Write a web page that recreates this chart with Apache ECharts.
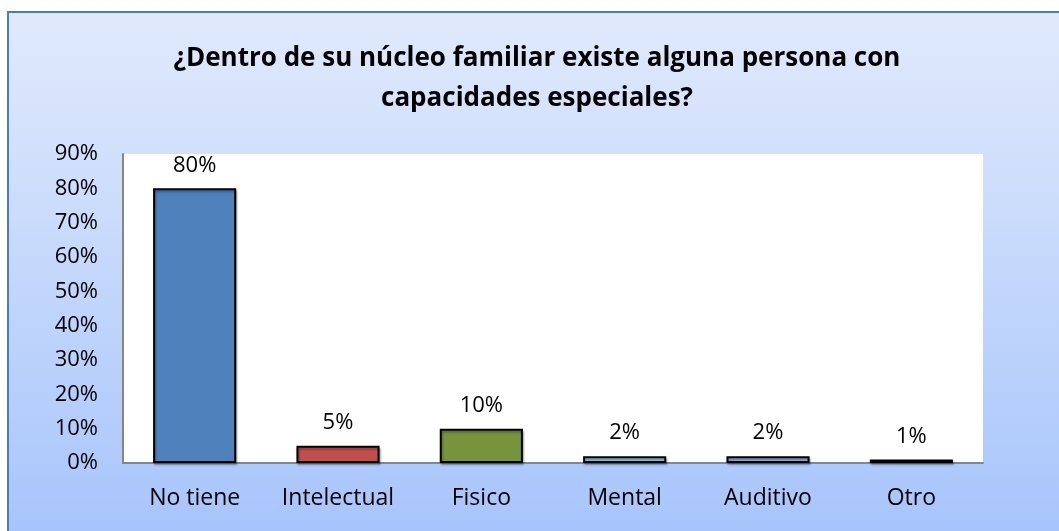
<!DOCTYPE html>
<html>
<head>
<meta charset="utf-8">
<script src="https://cdn.jsdelivr.net/npm/echarts@6/dist/echarts.min.js"></script>
<style>
html,body{margin:0;padding:0;background:#fff;}
#chart{width:1059px;height:531px;}
</style>
</head>
<body>
<div id="chart"></div>
<script>
// datos
var categorias = ['No tiene', 'Intelectual', 'Fisico', 'Mental', 'Auditivo', 'Otro'];
var porcentajes = [80, 5, 10, 2, 2, 1];
var colores = ['#4F81BD', '#C0504D', '#77933C', '#93CDDD', '#95B3D7', '#1F1F1F'];
var ticksY = [0, 10, 20, 30, 40, 50, 60, 70, 80, 90];

var fuente = '"Open Sans", "DejaVu Sans", sans-serif';

var datos = [];
for (var i = 0; i < porcentajes.length; i++) {
  datos.push({
    value: porcentajes[i],
    itemStyle: { color: colores[i] }
  });
}

var myChart = echarts.init(document.getElementById('chart'));
var option = {
  animation: false,
  backgroundColor: '#ffffff',
  graphic: [
    {
      type: 'rect',
      z: -10,
      shape: { x: 8, y: 12, width: 1060, height: 530 },
      style: {
        fill: new echarts.graphic.LinearGradient(0, 0, 0, 1, [
          { offset: 0, color: '#e1eafc' },
          { offset: 1, color: '#a6c4fb' }
        ]),
        stroke: '#4a7ebb',
        lineWidth: 2
      }
    },
    {
      type: 'text',
      x: 537,
      y: 39,
      style: {
        text: '¿Dentro de su núcleo familiar existe alguna persona con\ncapacidades especiales?',
        align: 'center',
        font: 'bold 26px "Open Sans", "DejaVu Sans", sans-serif',
        fill: '#000',
        lineHeight: 40
      }
    }
  ],
  grid: {
    left: 123,
    right: 76,
    top: 154,
    bottom: 68,
    show: true,
    backgroundColor: '#ffffff',
    borderWidth: 0
  },
  xAxis: {
    type: 'category',
    data: categorias,
    axisLine: { lineStyle: { color: '#868686', width: 2 } },
    axisTick: { show: false },
    axisLabel: {
      interval: 0,
      margin: 24,
      fontFamily: fuente,
      fontSize: 23,
      color: '#000'
    }
  },
  yAxis: {
    type: 'value',
    min: ticksY[0],
    max: ticksY[ticksY.length - 1],
    interval: 10,
    axisLine: { show: true, lineStyle: { color: '#868686', width: 2 } },
    axisTick: { show: false },
    splitLine: { show: false },
    axisLabel: {
      margin: 25,
      formatter: '{value}%',
      fontFamily: fuente,
      fontSize: 22,
      color: '#000'
    }
  },
  series: [
    {
      type: 'bar',
      data: datos,
      barWidth: '58%',
      itemStyle: {
        borderColor: '#000',
        borderWidth: 2,
        shadowColor: 'rgba(0,0,0,0.3)',
        shadowOffsetY: 2,
        shadowOffsetX: 1,
        shadowBlur: 2
      },
      label: {
        show: true,
        position: 'top',
        distance: 12,
        formatter: '{c}%',
        fontFamily: fuente,
        fontSize: 22,
        color: '#000'
      }
    }
  ]
};
myChart.setOption(option);
</script>
</body>
</html>
